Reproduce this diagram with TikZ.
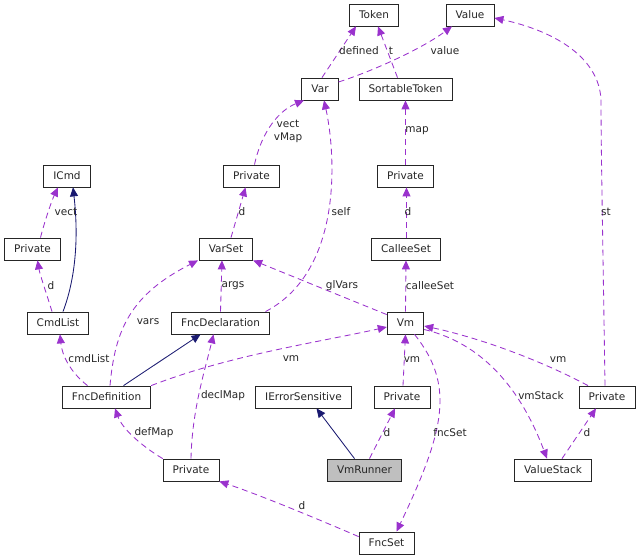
\documentclass[tikz,border=0pt]{standalone}
\usepackage{fontspec}
\setmainfont{DejaVu Sans}
\usetikzlibrary{arrows.meta}
\definecolor{edgepurple}{HTML}{9A32CD}
\definecolor{inhnavy}{HTML}{191970}
\definecolor{grayfill}{HTML}{BFBFBF}
\newcommand\dxfont{\fontsize{10.5}{12.5}\selectfont}
\tikzset{
  box/.style={draw=black!85, line width=0.8pt, fill=white, minimum height=22pt, inner xsep=9.6pt, inner ysep=0pt, font=\dxfont, text=black!85},
  member/.style={draw=edgepurple, line width=0.85pt, dash pattern=on 6pt off 4pt, -{Triangle[length=9pt,width=8pt]}, edgepurple},
  inherit/.style={draw=inhnavy, line width=0.85pt, -{Triangle[length=9pt,width=8pt]}, inhnavy},
  lbl/.style={font=\dxfont, inner sep=0pt, text=black!85, align=center}
}
\begin{document}
\begin{tikzpicture}[x=1pt,y=-1pt]
\useasboundingbox (0,0) rectangle (640,559);
% nodes
\node[box] (token) at (374,15) {Token};
\node[box] (value) at (470,15) {Value};
\node[box] (var) at (320,89) {Var};
\node[box] (sortable) at (405.5,89) {SortableToken};
\node[box] (icmd) at (67,176) {ICmd};
\node[box] (privA) at (251.5,176) {Private};
\node[box] (privB) at (405.5,176) {Private};
\node[box] (privC) at (32.5,249) {Private};
\node[box] (varset) at (226,249) {VarSet};
\node[box] (calleeset) at (406,249) {CalleeSet};
\node[box] (cmdlist) at (58,323) {CmdList};
\node[box] (fncdecl) at (220.5,323) {FncDeclaration};
\node[box] (vm) at (405.5,323) {Vm};
\node[box] (fncdef) at (106.5,397) {FncDefinition};
\node[box] (ierr) at (303.5,397) {IErrorSensitive};
\node[box] (privD) at (402,397) {Private};
\node[box] (privE) at (607,397) {Private};
\node[box] (privF) at (191,470) {Private};
\node[box, fill=grayfill] (vmrunner) at (364.5,470) {VmRunner};
\node[box] (valuestack) at (553,470) {ValueStack};
\node[box] (fncset) at (386.5,543) {FncSet};
% edges
\draw[member] ([xshift=2pt]var.north) -- ([xshift=-18pt]token.south);
\draw[member] ([xshift=-8pt]sortable.north) -- ([xshift=4pt]token.south);
\draw[member] ([yshift=7pt]var.east) .. controls (370,72) and (420,50) .. ([xshift=-18pt]value.south);
\draw[member] (privB.north) -- (sortable.south);
\draw[member] ([xshift=3pt]privA.north) .. controls (262,130) and (280,110) .. ([xshift=-16pt]var.south);
\draw[member] ([xshift=45pt]fncdecl.north) .. controls (345,270) and (335,150) .. ([xshift=4pt]var.south);
\draw[member] ([xshift=5pt]varset.north) -- ([xshift=-6pt]privA.south);
\draw[member] ([xshift=0.5pt]calleeset.north) -- ([xshift=1pt]privB.south);
\draw[member] (vm.north) -- (calleeset.south);
\draw[member] ([yshift=-3pt]vm.north west) -- (varset.south east);
\draw[member] (fncdecl.north) -- ([xshift=-4pt]varset.south);
\draw[member] ([xshift=3.5pt]fncdef.north) .. controls (115,330) and (130,295) .. ([xshift=-28pt]varset.south);
\draw[member] ([xshift=8pt]privC.north) .. controls (45,220) and (52,200) .. ([xshift=-9pt]icmd.south);
\draw[inherit] ([xshift=5pt]cmdlist.north) .. controls (75,280) and (79,240) .. ([xshift=6pt]icmd.south);
\draw[member] ([xshift=-6pt]cmdlist.north) .. controls (47,295) and (40,275) .. ([xshift=5pt]privC.south);
\draw[member] ([xshift=-19pt]fncdef.north) .. controls (70,372) and (62,355) .. ([xshift=2pt]cmdlist.south);
\draw[inherit] ([xshift=17pt]fncdef.north) -- ([xshift=-20pt]fncdecl.south);
\draw[member] (fncdef.north east) .. controls (230,355) and (320,342) .. ([yshift=-4pt]vm.west);
\draw[member] (privF.north) .. controls (192,410) and (205,370) .. ([xshift=-7pt]fncdecl.south);
\draw[member] (privF.north west) .. controls (140,445) and (122,428) .. ([xshift=8.5pt]fncdef.south);
\draw[member] ([yshift=-5pt]fncset.north west) .. controls (320,520) and (260,495) .. (privF.south east);
\draw[member] ([xshift=1pt]privD.north) -- (vm.south);
\draw[inherit] ([xshift=-10pt]vmrunner.north) -- ([xshift=13pt]ierr.south);
\draw[member] ([xshift=5pt]vmrunner.north) -- ([xshift=-7pt]privD.south);
\draw[member] ([xshift=9pt]vm.south) .. controls (455,385) and (445,430) .. ([xshift=10pt]fncset.north);
\draw[member] ([yshift=-6.5pt]vm.east) .. controls (490,345) and (525,400) .. ([xshift=-6pt]valuestack.north);
\draw[member] ([xshift=-19pt]privE.north) .. controls (540,360) and (480,338) .. ([yshift=-3pt]vm.east);
\draw[member] ([xshift=9pt]valuestack.north) -- ([xshift=-11pt]privE.south);
\draw[member] ([xshift=-2pt]privE.north) .. controls (603,250) and (601,150) .. (601,100) .. controls (599,55) and (550,30) .. ([yshift=-3pt]value.east);
% labels
\node[lbl] (l01) at (359,51) {defined};
\node[lbl] (l02) at (391,51) {t};
\node[lbl] (l03) at (445,51) {value};
\node[lbl] (l04) at (288,131.5) {vect\\vMap};
\node[lbl] (l05) at (417,131) {map};
\node[lbl] (l06) at (341,212) {self};
\node[lbl] (l07) at (606,212) {st};
\node[lbl] (l08) at (242,212) {d};
\node[lbl] (l09) at (408,212) {d};
\node[lbl] (l10) at (66,212) {vect};
\node[lbl] (l11) at (51,286) {d};
\node[lbl] (l12) at (233,286) {args};
\node[lbl] (l13) at (148,322) {vars};
\node[lbl] (l14) at (342,286) {glVars};
\node[lbl] (l15) at (430,286) {calleeSet};
\node[lbl] (l16) at (89,359) {cmdList};
\node[lbl] (l17) at (291,359) {vm};
\node[lbl] (l18) at (412,360) {vm};
\node[lbl] (l19) at (558,360) {vm};
\node[lbl] (l20) at (223,396) {declMap};
\node[lbl] (l21) at (541,396) {vmStack};
\node[lbl] (l22) at (154,433) {defMap};
\node[lbl] (l23) at (387,433) {d};
\node[lbl] (l24) at (450,433) {fncSet};
\node[lbl] (l25) at (587,433) {d};
\node[lbl] (l26) at (302,506) {d};
\end{tikzpicture}
\end{document}
